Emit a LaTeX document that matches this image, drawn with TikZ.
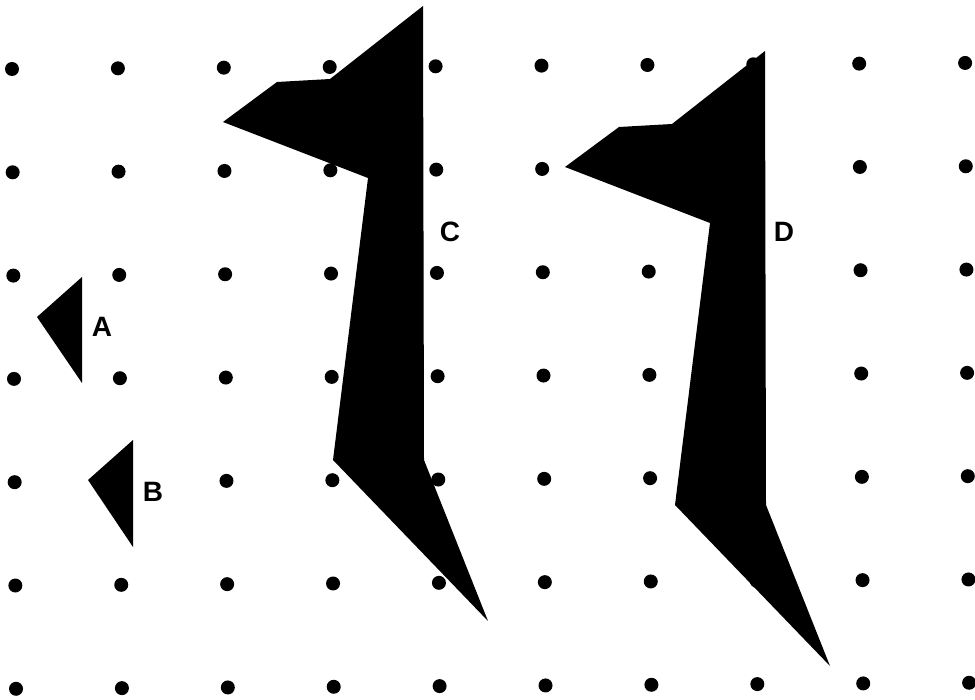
\documentclass[tikz,border=0pt]{standalone}
\usepackage{fontspec}
\setsansfont{Liberation Sans}
\usepackage{tikz}
\usetikzlibrary{positioning}

\begin{document}
\begin{tikzpicture}[x=1pt, y=-1pt,
    gridpt/.style={fill=black},
    piece/.style={fill=black},
    tag/.style={font=\sffamily\bfseries\fontsize{28}{30}\selectfont, inner sep=0pt}]
  \useasboundingbox (0,0) rectangle (975,700);
  % dot grid (the scan is a little tilted)
  \foreach \i in {0,...,9}
    \foreach \j in {0,...,6}
      \fill[gridpt] ({12+105.9*\i+0.67*\j}, {69-0.67*\i+103.3*\j}) circle (7);
  % small triangles
  \fill[piece] (82,277) -- (37,317) -- (82,383) -- cycle;
  \fill[piece] (133,440) -- (88,480) -- (133,547) -- cycle;
  % big figures, D is C moved
  \fill[piece] (423,6) -- (424,460) -- (488,621) -- (333,460) -- (368,178)
    -- (223,122) -- (277,82) -- (330,79) -- cycle;
  \fill[piece, shift={(342,45)}] (423,6) -- (424,460) -- (488,621) -- (333,460) -- (368,178)
    -- (223,122) -- (277,82) -- (330,79) -- cycle;
  % labels
  \node[tag] (labA) at (102,327) {A};
  \node[tag] (labB) at (153,492) {B};
  \node[tag] (labC) at (450,232) {C};
  \node[tag] (labD) at (784,232) {D};
\end{tikzpicture}
\end{document}
